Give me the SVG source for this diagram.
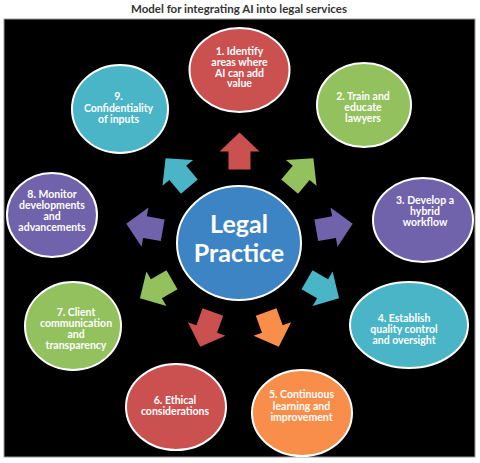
<svg xmlns="http://www.w3.org/2000/svg" xmlns:xlink="http://www.w3.org/1999/xlink" width="480" height="463" viewBox="0 0 480 463">
<style>
.title{font-family:Lato,"Open Sans",sans-serif;font-weight:700;font-size:11.5px;fill:#333;text-anchor:middle}
.node ellipse{stroke:#fff;stroke-width:2}
.lbl{font-family:Lato,"Open Sans",sans-serif;font-weight:700;font-size:10.5px;fill:#fff;text-anchor:middle}
.big{font-family:Lato,"Open Sans",sans-serif;font-weight:700;font-size:25px;fill:#fff;text-anchor:middle}
.red{fill:#CB5150}.green{fill:#93C15E}.purple{fill:#7162AC}.teal{fill:#4AB5C7}.orange{fill:#F98E4A}.blue{fill:#3D84C5}
</style>
<defs>
<path id="arr" d="M0,-19 L20,0 L11,0 L11,18 L-11,18 L-11,0 L-20,0 Z"/>
</defs>
<rect x="0" y="0" width="480" height="463" fill="#fff"/>
<text class="title" x="239" y="12.5">Model for integrating AI into legal services</text>
<rect x="4" y="19" width="471" height="438" fill="#000" stroke="#999" stroke-width="1"/>

<g id="connectors">
<use xlink:href="#arr" class="red" transform="translate(239.5,151.5) rotate(0)"/>
<use xlink:href="#arr" class="green" transform="translate(301.2,172.9) rotate(40)"/>
<use xlink:href="#arr" class="purple" transform="translate(334,227.1) rotate(80)"/>
<use xlink:href="#arr" class="teal" transform="translate(322.6,288.8) rotate(120)"/>
<use xlink:href="#arr" class="orange" transform="translate(272.3,329) rotate(160)"/>
<use xlink:href="#arr" class="red" transform="translate(206.7,329) rotate(200)"/>
<use xlink:href="#arr" class="green" transform="translate(156.4,288.8) rotate(240)"/>
<use xlink:href="#arr" class="purple" transform="translate(145,227.1) rotate(280)"/>
<use xlink:href="#arr" class="teal" transform="translate(177.8,172.9) rotate(320)"/>
</g>

<g id="center" class="node">
<ellipse class="blue" cx="239" cy="243" rx="62" ry="57"/>
<text class="big" x="239" y="233">Legal</text>
<text class="big" x="239" y="262">Practice</text>
</g>

<g id="n1" class="node">
<ellipse class="red" cx="239.5" cy="70" rx="50" ry="42"/>
<text class="lbl" x="239.5" y="54.5">1. Identify</text>
<text class="lbl" x="239.5" y="65.5">areas where</text>
<text class="lbl" x="239.5" y="76.5">AI can add</text>
<text class="lbl" x="239.5" y="87">value</text>
</g>
<g id="n2" class="node">
<ellipse class="green" cx="364" cy="105" rx="47" ry="42"/>
<text class="lbl" x="363" y="100">2. Train and</text>
<text class="lbl" x="363" y="111">educate</text>
<text class="lbl" x="363" y="122">lawyers</text>
</g>
<g id="n3" class="node">
<ellipse class="purple" cx="423" cy="220" rx="50" ry="42"/>
<text class="lbl" x="425" y="204">3. Develop a</text>
<text class="lbl" x="425" y="215">hybrid</text>
<text class="lbl" x="425" y="226">workflow</text>
</g>
<g id="n4" class="node">
<ellipse class="teal" cx="409" cy="325" rx="59" ry="43"/>
<text class="lbl" x="404" y="322">4. Establish</text>
<text class="lbl" x="404" y="333">quality control</text>
<text class="lbl" x="404" y="344">and oversight</text>
</g>
<g id="n5" class="node">
<ellipse class="orange" cx="302" cy="413" rx="50" ry="43"/>
<text class="lbl" x="301.5" y="398">5. Continuous</text>
<text class="lbl" x="301.5" y="409.5">learning and</text>
<text class="lbl" x="301.5" y="421">improvement</text>
</g>
<g id="n6" class="node">
<ellipse class="red" cx="176" cy="407" rx="50" ry="43"/>
<text class="lbl" x="175" y="404">6. Ethical</text>
<text class="lbl" x="175" y="414.5">considerations</text>
</g>
<g id="n7" class="node">
<ellipse class="green" cx="73" cy="326" rx="48" ry="44"/>
<text class="lbl" x="76" y="316">7. Client</text>
<text class="lbl" x="76" y="326.5">communication</text>
<text class="lbl" x="76" y="337.5">and</text>
<text class="lbl" x="76" y="348.5">transparency</text>
</g>
<g id="n8" class="node">
<ellipse class="purple" cx="52" cy="215" rx="45" ry="42"/>
<text class="lbl" x="52" y="198">8. Monitor</text>
<text class="lbl" x="52" y="208.5">developments</text>
<text class="lbl" x="52" y="219.5">and</text>
<text class="lbl" x="52" y="230.5">advancements</text>
</g>
<g id="n9" class="node">
<ellipse class="teal" cx="120" cy="109" rx="48" ry="44"/>
<text class="lbl" x="118.5" y="99.5">9.</text>
<text class="lbl" x="118.5" y="111.5">Confidentiality</text>
<text class="lbl" x="118.5" y="123">of inputs</text>
</g>
</svg>
